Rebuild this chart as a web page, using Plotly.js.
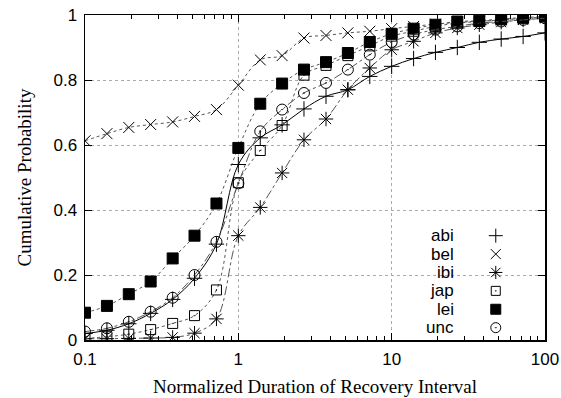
<!DOCTYPE html>
<html>
<head>
<meta charset="utf-8">
<script src="https://cdn.plot.ly/plotly-3.0.1.min.js"></script>
<style>
  html, body { margin: 0; padding: 0; background: #fff; }
  #chart { width: 561px; height: 398px; }
</style>
</head>
<body>
<div id="chart"></div>
<script>
// Normalized recovery-interval durations (log-spaced sample points)
const durations = [0.1, 0.139, 0.193, 0.268, 0.373, 0.518, 0.72, 1, 1.39, 1.93, 2.68,
                   3.73, 5.18, 7.2, 10, 13.9, 19.3, 26.8, 37.3, 51.8, 72, 100];

// Cumulative probability per site
const abi = [0.020, 0.030, 0.050, 0.082, 0.125, 0.190, 0.295, 0.540, 0.622, 0.662, 0.711,
             0.750, 0.770, 0.811, 0.842, 0.866, 0.885, 0.900, 0.916, 0.926, 0.934, 0.945];
const bel = [0.613, 0.635, 0.654, 0.663, 0.671, 0.688, 0.709, 0.784, 0.862, 0.875, 0.929,
             0.937, 0.945, 0.950, 0.958, 0.965, 0.972, 0.977, 0.981, 0.985, 0.989, 0.992];
const ibi = [0.004, 0.004, 0.005, 0.006, 0.008, 0.021, 0.065, 0.321, 0.408, 0.514, 0.616,
             0.680, 0.770, 0.837, 0.893, 0.919, 0.945, 0.960, 0.970, 0.978, 0.985, 0.990];
const jap = [0.005, 0.010, 0.018, 0.032, 0.051, 0.075, 0.154, 0.484, 0.583, 0.660, 0.815,
             0.845, 0.875, 0.905, 0.935, 0.950, 0.965, 0.975, 0.980, 0.985, 0.990, 0.994];
const lei = [0.084, 0.105, 0.141, 0.180, 0.251, 0.321, 0.420, 0.591, 0.727, 0.789, 0.832,
             0.855, 0.883, 0.917, 0.942, 0.958, 0.970, 0.980, 0.982, 0.988, 0.992, 0.996];
const unc = [0.026, 0.036, 0.056, 0.087, 0.130, 0.200, 0.302, 0.482, 0.642, 0.709, 0.760,
             0.791, 0.832, 0.878, 0.917, 0.940, 0.955, 0.965, 0.975, 0.980, 0.985, 0.990];

const seriesNames = ['abi', 'bel', 'ibi', 'jap', 'lei', 'unc'];
const seriesValues = [abi, bel, ibi, jap, lei, unc];

const xTickVals = [0.1, 1, 10, 100];
const xTickText = ['0.1', '1', '10', '100'];
const xMinorVals = [0.2, 0.3, 0.4, 0.5, 0.6, 0.7, 0.8, 0.9,
                    2, 3, 4, 5, 6, 7, 8, 9,
                    20, 30, 40, 50, 60, 70, 80, 90];
const yTickVals = [0, 0.2, 0.4, 0.6, 0.8, 1];
const yTickText = ['0', '0.2', '0.4', '0.6', '0.8', '1'];

// Point and line styles per series
const styles = {
  abi: { symbol: 'cross-thin-open', size: 11, dash: 'solid',   lineColor: '#000' },
  bel: { symbol: 'x-thin-open',     size: 11, dash: 'dot',     lineColor: '#555' },
  ibi: { symbol: 'asterisk-open',   size: 12, dash: 'dashdot', lineColor: '#555' },
  jap: { symbol: 'square-open-dot', size: 10, dash: 'dot',     lineColor: '#555' },
  lei: { symbol: 'square',          size: 11, dash: 'dot',     lineColor: '#555' },
  unc: { symbol: 'circle-open-dot', size: 11, dash: 'dashdot', lineColor: '#555' }
};

const traces = seriesNames.map((name, i) => {
  const s = styles[name];
  return {
    type: 'scatter',
    mode: 'lines+markers',
    name: name,
    x: durations,
    y: seriesValues[i],
    showlegend: false,
    line: { color: s.lineColor, width: 1, dash: s.dash, shape: 'spline', smoothing: 1 },
    marker: { symbol: s.symbol, size: s.size, color: '#000',
              line: { color: '#000', width: 1 } }
  };
});

// Key: labels right-aligned, symbol to their right, stacked downward
const keyTop = 0.321, keyStep = 0.0566, keySymbolX = 0.893, keyTextX = 0.806;
seriesNames.forEach((name, i) => {
  const s = styles[name];
  traces.push({
    type: 'scatter', mode: 'markers', xaxis: 'x2', yaxis: 'y2',
    x: [keySymbolX], y: [keyTop - i * keyStep], showlegend: false, hoverinfo: 'skip',
    marker: { symbol: s.symbol, size: s.size - 1, color: '#000',
              line: { color: '#000', width: 1 } }
  });
});
const keyLabels = seriesNames.map((name, i) => ({
  xref: 'paper', yref: 'paper', x: keyTextX, y: keyTop - i * keyStep,
  xanchor: 'right', yanchor: 'middle', showarrow: false, text: name,
  font: { family: 'Liberation Sans, Arial, sans-serif', size: 17, color: '#000' }
}));

const tickFont = { family: 'Liberation Sans, Arial, sans-serif', size: 17, color: '#000' };
const titleFont = { family: 'Liberation Serif, Times New Roman, serif', size: 19, color: '#000' };

const layout = {
  width: 561, height: 398,
  margin: { l: 85, r: 16, t: 15, b: 58 },
  paper_bgcolor: '#fff', plot_bgcolor: '#fff',
  showlegend: false,
  xaxis: {
    type: 'log', range: [-1, 2],
    tickvals: xTickVals, ticktext: xTickText, tickfont: tickFont,
    ticks: 'inside', ticklen: 7, tickcolor: '#000', tickwidth: 1,
    ticklabelstandoff: 3,
    showline: true, linecolor: '#000', linewidth: 1.5, mirror: 'allticks',
    showgrid: true, gridcolor: '#aaa', griddash: 'dot', gridwidth: 1,
    minor: { tickvals: xMinorVals, ticks: 'inside', ticklen: 4, tickcolor: '#000', showgrid: false },
    zeroline: false,
    title: { text: 'Normalized Duration of Recovery Interval', font: titleFont, standoff: 12 }
  },
  yaxis: {
    range: [0, 1],
    tickvals: yTickVals, ticktext: yTickText, tickfont: tickFont,
    ticks: 'inside', ticklen: 7, tickcolor: '#000', tickwidth: 1,
    ticklabelstandoff: 3,
    showline: true, linecolor: '#000', linewidth: 1.5, mirror: 'allticks',
    showgrid: true, gridcolor: '#aaa', griddash: 'dot', gridwidth: 1,
    zeroline: false,
    title: { text: 'Cumulative Probability', font: titleFont, standoff: 17 }
  },
  xaxis2: { overlaying: 'x', range: [0, 1], visible: false, fixedrange: true },
  yaxis2: { overlaying: 'y', range: [0, 1], visible: false, fixedrange: true },
  annotations: keyLabels
};

Plotly.newPlot('chart', traces, layout, { staticPlot: true, displayModeBar: false });
</script>
</body>
</html>
